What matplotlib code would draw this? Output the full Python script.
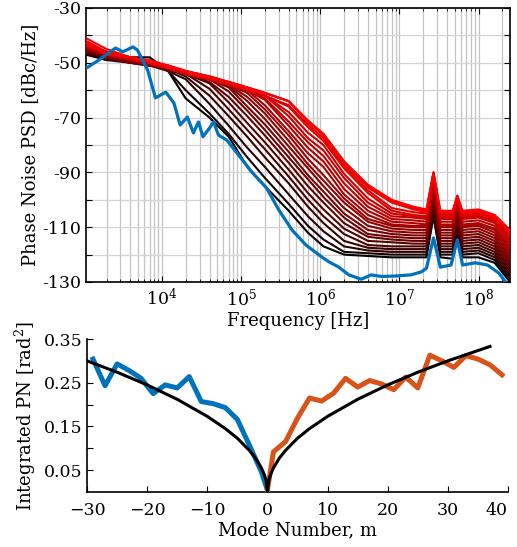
import numpy as np
import matplotlib
matplotlib.use("Agg")
import matplotlib.pyplot as plt
from matplotlib.ticker import LogLocator, NullFormatter, FixedLocator, FixedFormatter

plt.rcParams['font.family'] = ['DejaVu Serif']
plt.rcParams['mathtext.fontset'] = 'dejavuserif'

# ---- top panel: phase noise PSD, one row per comb line (black -> red) ----
freq = [1.1e3, 2e3, 4e3, 7e3, 1.2e4, 2e4, 4e4, 7e4, 1.2e5, 2e5, 4e5, 7e5, 1.1e6,
        2e6, 4e6, 8e6, 1.5e7, 2.2e7, 2.7e7, 3.3e7, 4.7e7, 5.4e7, 6.3e7, 1e8, 1.6e8, 2.5e8]

psd_curves = [
    [-47, -49, -48, -48, -53, -63, -70, -77, -88, -95, -104, -112, -117, -120, -120.5, -121, -121, -121, -106, -121, -121.5, -112, -121, -121, -123, -130],
    [-46, -48, -49, -50, -53, -60, -68.5, -76, -84.5, -92, -101.5, -109.5, -114.5, -119, -119.5, -120, -120, -120, -105, -120, -120, -111, -120, -119.5, -122, -129],
    [-47, -48, -50, -50, -53, -56, -65, -73, -81, -88, -98, -106, -111.5, -117, -118.5, -119, -119, -119, -104, -119, -119, -110, -119, -118.5, -121, -128],
    [-46, -49, -50, -51, -52, -55, -62, -69.5, -77, -84.5, -94, -102.5, -108.5, -115, -117.5, -118, -118, -118, -103, -118, -118, -109, -118, -117.5, -120, -127],
    [-45, -48, -49, -51, -52, -54, -59.5, -67, -74.5, -81.5, -91.5, -100, -106, -112.5, -116.5, -117, -117, -117, -102, -117, -117, -108, -117, -116.5, -119, -126],
    [-46, -48, -50, -51, -53, -54, -57.5, -64.5, -72, -79, -89, -97.5, -103.5, -110.5, -115, -115.5, -116, -116, -101, -116, -116, -107, -116, -115.5, -118, -125],
    [-45, -47, -49, -51, -52, -54, -57, -62.5, -69.5, -76.5, -86.5, -95, -101, -108.5, -113.5, -114.5, -115, -115, -100, -115, -115, -106, -115, -114.5, -117, -124],
    [-46, -48, -50, -51, -52, -54, -56, -60.5, -67.5, -74.5, -84.5, -92.5, -99, -106.5, -112.5, -113.5, -114, -114, -99, -114, -114, -105, -114, -113.5, -116, -123],
    [-45, -47, -49, -50, -52, -54, -56, -59, -66, -72.5, -82.5, -91, -97, -105, -111, -112.5, -113, -113, -98, -113, -113, -104, -113, -112.5, -115, -122],
    [-45, -48, -49, -51, -52, -54, -56, -58.5, -64, -70.5, -80.5, -88.5, -95, -103, -109.5, -111.5, -112, -112, -97, -112, -112, -103.5, -112, -111.5, -114, -121],
    [-44, -47, -49, -50, -52, -54, -56, -58, -62.5, -68.5, -78.5, -87, -93, -101, -108, -110.5, -111, -111, -96, -111, -111, -103, -111, -110.5, -113, -120],
    [-45, -47, -49, -51, -52, -54, -56, -58, -61, -67, -76.5, -85, -91, -99.5, -107, -109.5, -110, -110, -95, -110, -110, -102, -110, -109.5, -112, -119],
    [-44, -47, -49, -50, -52, -54, -56, -58, -60, -65.5, -75, -83, -88, -98, -105.5, -109, -109.5, -109.5, -94.5, -109.5, -109.5, -101.5, -109.5, -109, -111, -118],
    [-44, -47, -48, -50, -52, -54, -56, -58, -60, -63.5, -73, -81, -86, -96, -104, -108, -108.5, -109, -94, -109, -109, -101, -109, -108.5, -110.5, -117],
    [-44, -47, -49, -50, -52, -54, -56, -58, -60, -63, -71.5, -79, -84, -94, -102.5, -107, -107.5, -108, -93, -108, -108, -100, -108, -107.5, -109.5, -116],
    [-43, -46, -48, -50, -52, -54, -56, -58, -60, -62, -69.5, -77.5, -82, -92, -101, -106, -106.5, -107, -92, -107, -107, -99.5, -107, -106.5, -108.5, -115],
    [-44, -46, -49, -50, -52, -54, -56, -58, -60, -62, -68, -75.5, -80, -90.5, -99.5, -105, -106, -106.5, -91.5, -106.5, -106.5, -99, -106.5, -106, -108, -114],
    [-43, -46, -48, -50, -52, -54, -56, -58, -60, -62, -66, -73.5, -78.5, -88.5, -97.5, -104, -105.5, -106, -91, -106, -106, -99, -106, -105.5, -107.5, -113],
    [-43, -46, -48, -50, -52, -54, -56, -58, -60, -62, -65.5, -72.5, -77.5, -87.5, -96.5, -103, -104.5, -105, -90.5, -105.5, -105.5, -99, -105.5, -105, -107, -112],
    [-42, -46, -48, -50, -51, -53, -55, -57, -59, -61, -64, -71.5, -76.5, -86.5, -95.5, -101, -103.5, -104.5, -90, -105, -105, -98.5, -105, -104.5, -106.5, -112],
    [-43, -47, -48, -50, -51, -53, -55, -57, -59, -61, -64, -71.5, -76, -86, -95, -100.5, -103, -104, -90, -104.5, -104.5, -98.5, -104.5, -104, -106, -111.5],
    [-41, -45, -48, -49, -51, -53, -55, -57, -59, -61, -64, -71, -76, -86, -94.5, -100, -102.5, -103.5, -90, -104, -104, -99, -104, -103.5, -105.5, -111],
]

# reference (pump) line, blue
blue_freq = [1.1e3, 1.6e3, 2.6e3, 3.2e3, 4.3e3, 4.9e3, 6.6e3, 8.3e3, 1.12e4, 1.42e4, 1.7e4,
             2.1e4, 2.5e4, 2.9e4, 3.3e4, 4.0e4, 4.5e4, 5.2e4, 6.6e4, 9.5e4, 1.38e5, 2.1e5,
             3e5, 4.4e5, 6.6e5, 1.05e6, 1.3e6, 1.7e6, 2.3e6, 3.3e6, 4.4e6, 6e6, 9e6,
             1.4e7, 1.9e7, 2.2e7, 2.7e7, 3.3e7, 4.5e7, 5.4e7, 6.3e7, 9.1e7, 1.3e8, 1.8e8, 2.2e8]
blue_psd = [-52, -49, -44.6, -46, -44.2, -45.3, -52.6, -62.8, -60.7, -64.7, -72.7,
            -69.8, -75.6, -71.6, -77, -73.8, -71.6, -76.4, -78.2, -84, -90, -95.7,
            -103.7, -111, -116.5, -120.9, -122.7, -124.5, -127.4, -129, -127.4, -128, -127.8,
            -127.4, -126.3, -125, -113.9, -124.6, -123.8, -114.6, -123.8, -123, -123.8, -126.7, -130]

# ---- bottom panel: integrated phase noise vs mode number ----
neg_modes = [-29, -27, -25, -23, -21, -19, -17, -15, -13, -11, -9, -7, -5, -3, -1, 0]
neg_pn = [0.304, 0.243, 0.293, 0.278, 0.260, 0.225, 0.245, 0.238, 0.264, 0.207,
          0.202, 0.193, 0.166, 0.107, 0.046, 0.004]
pos_modes = [0, 1, 3, 5, 7, 9, 11, 13, 15, 17, 19, 21, 23, 25, 27, 29, 31, 33, 35, 37, 39]
pos_pn = [0.004, 0.092, 0.115, 0.169, 0.215, 0.208, 0.226, 0.260, 0.240, 0.255, 0.247,
          0.234, 0.263, 0.238, 0.313, 0.300, 0.285, 0.312, 0.304, 0.291, 0.268]
fit_modes = [-30, -25, -20, -15, -10, -7, -5, -3, -2, -1, -0.5, -0.2, 0,
             0.2, 0.5, 1, 2, 3, 5, 7, 10, 15, 20, 25, 30, 37]
fit_pn = [0.300, 0.274, 0.245, 0.212, 0.173, 0.145, 0.123, 0.095, 0.078, 0.055, 0.039, 0.025, 0.0,
          0.025, 0.039, 0.055, 0.078, 0.095, 0.123, 0.145, 0.173, 0.212, 0.245, 0.274, 0.300, 0.333]

fs = 12.5
fig = plt.figure(figsize=(5.17, 5.47), dpi=100)

# top
ax1 = fig.add_axes([86/517, 1-282/547, 424/517, 274/547])
n = len(psd_curves)
for k, row in enumerate(psd_curves):
    ax1.semilogx(freq, row, color=((k/(n-1))**0.75, 0, 0), lw=1.5, zorder=3)
ax1.semilogx(blue_freq, blue_psd, color='#0072BD', lw=2.3, zorder=4)
ax1.set_xlim(1.1e3, 2.5e8)
ax1.set_ylim(-130, -30)
ax1.xaxis.set_major_locator(FixedLocator([1e4, 1e5, 1e6, 1e7, 1e8]))
ax1.xaxis.set_minor_locator(LogLocator(base=10, subs=np.arange(2, 10)))
ax1.xaxis.set_minor_formatter(NullFormatter())
yt = list(range(-130, -29, 10))
ax1.yaxis.set_major_locator(FixedLocator(yt))
ax1.yaxis.set_major_formatter(FixedFormatter([str(v) if (v + 130) % 20 == 0 else '' for v in yt]))
ax1.grid(True, which='major', axis='y', color='#d4d4d4', lw=0.9, zorder=0)
ax1.grid(True, which='both', axis='x', color='#c4c4c4', lw=0.9, zorder=0)
ax1.tick_params(which='both', direction='in', top=True, right=True, labelsize=fs)
ax1.tick_params(which='major', length=4)
ax1.tick_params(which='minor', length=2)
ax1.tick_params(axis='x', which='major', pad=4)
for s in ax1.spines.values():
    s.set_linewidth(1.2)
ax1.set_xlabel('Frequency [Hz]', fontsize=fs + 0.5, labelpad=2)
ax1.set_ylabel('Phase Noise PSD [dBc/Hz]', fontsize=fs + 0.5, labelpad=2)

# bottom
ax2 = fig.add_axes([87/517, 1-492/547, 421/517, 153/547])
ax2.plot(neg_modes, neg_pn, color='#0072BD', lw=3.6, zorder=3)
ax2.plot(pos_modes, pos_pn, color='#D95319', lw=3.6, zorder=3)
ax2.plot(fit_modes, fit_pn, color='black', lw=2.2, zorder=4)
ax2.set_xlim(-30, 40)
ax2.set_ylim(0, 0.35)
ax2.set_xticks(range(-30, 41, 10))
yt2 = [0.05, 0.1, 0.15, 0.2, 0.25, 0.3, 0.35]
ax2.yaxis.set_major_locator(FixedLocator(yt2))
ax2.yaxis.set_major_formatter(FixedFormatter(['0.05', '', '0.15', '', '0.25', '', '0.35']))
ax2.spines['top'].set_visible(False)
ax2.spines['right'].set_visible(False)
for s in ax2.spines.values():
    s.set_linewidth(1.2)
ax2.tick_params(direction='in', length=4, labelsize=fs)
ax2.tick_params(axis='x', pad=7)
ax2.set_xlabel('Mode Number, m', fontsize=fs + 0.5, labelpad=2)
ax2.set_ylabel('Integrated PN [rad$^2$]', fontsize=fs + 0.5, labelpad=4)
# keep the last tick label inside the figure
fig.canvas.draw()
ax2.get_xticklabels()[-1].set_horizontalalignment('right')

fig.savefig('out.png', dpi=100)
